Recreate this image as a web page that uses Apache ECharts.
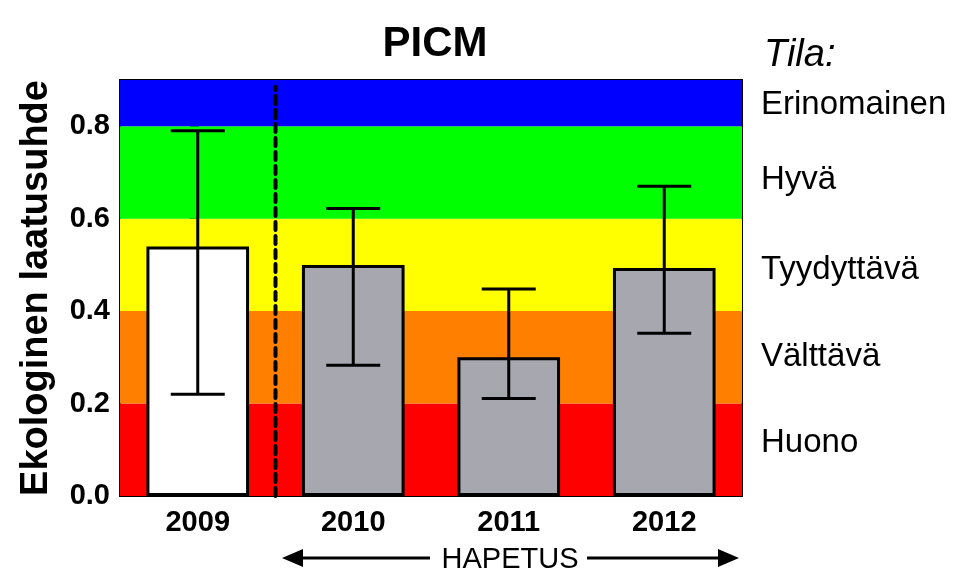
<!DOCTYPE html>
<html><head><meta charset="utf-8">
<script src="https://cdn.jsdelivr.net/npm/echarts@6/dist/echarts.min.js"></script>
<style>html,body{margin:0;padding:0;background:#fff}#c{width:958px;height:576px}</style>
</head><body><div id="c"></div>
<script>
const categories = ['2009', '2010', '2011', '2012'];
const means = [0.54, 0.50, 0.30, 0.493];
const errLow = [0.22, 0.283, 0.211, 0.352];
const errHigh = [0.79, 0.622, 0.448, 0.670];
const barColors = ['#ffffff', '#a7a7af', '#a7a7af', '#a7a7af'];
const bandLimits = [0, 0.2, 0.4, 0.6, 0.8, 0.9];
const bandColors = ['#ff0000', '#ff7f00', '#ffff00', '#00ff00', '#0000ff'];
const bandNames = ['Huono', 'Välttävä', 'Tyydyttävä', 'Hyvä', 'Erinomainen'];
const yTicks = [0, 0.2, 0.4, 0.6, 0.8];

const FONT = 'Liberation Sans, Arial, sans-serif';
const chart = echarts.init(document.getElementById('c'));

const markAreaData = bandColors.map((c, i) => [
  { yAxis: bandLimits[i], itemStyle: { color: c } },
  { yAxis: bandLimits[i + 1] }
]);

chart.setOption({
  animation: false,
  title: {
    text: 'PICM', left: 430, top: 18, textAlign: 'center',
    textStyle: { fontFamily: FONT, fontWeight: 'bold', fontSize: 42, color: '#000' }
  },
  grid: { left: 120, right: 216, top: 80, bottom: 80, show: true, borderColor: '#000', borderWidth: 2, backgroundColor: 'transparent' },
  xAxis: [{
    type: 'category', data: categories,
    axisLine: { lineStyle: { color: '#000', width: 2 } },
    axisTick: { alignWithLabel: true, length: 8, lineStyle: { color: '#000', width: 2 } },
    axisLabel: { fontFamily: FONT, fontWeight: 'bold', fontSize: 29, color: '#000', margin: 12 }
  }, {
    type: 'value', min: -0.5, max: 3.5, show: false
  }],
  yAxis: {
    type: 'value', min: 0, max: 0.9, interval: 0.2,
    name: 'Ekologinen laatusuhde', nameLocation: 'middle', nameGap: 64,
    nameTextStyle: { fontFamily: FONT, fontWeight: 'bold', fontSize: 38, color: '#000' },
    splitLine: { show: false },
    axisLine: { show: true, lineStyle: { color: '#000', width: 2 } },
    axisTick: { show: true, length: 8, lineStyle: { color: '#000', width: 2 } },
    axisLabel: {
      fontFamily: FONT, fontWeight: 'bold', fontSize: 29, color: '#000', margin: 10,
      formatter: v => yTicks.some(t => Math.abs(t - v) < 1e-6) ? v.toFixed(1) : ''
    }
  },
  series: [
    {
      type: 'line', data: [], z: 0, silent: true,
      markArea: { silent: true, data: markAreaData, itemStyle: { opacity: 1 } }
    },
    {
      type: 'bar', data: means.map((v, i) => ({ value: v, itemStyle: { color: barColors[i] } })),
      barWidth: '66%', z: 3,
      itemStyle: { borderColor: '#000', borderWidth: 3 }
    },
    {
      type: 'custom', z: 5, xAxisIndex: 0,
      data: categories.map((c, i) => [i, errLow[i], errHigh[i]]),
      renderItem: (params, api) => {
        const x = api.value(0);
        const lo = api.coord([x, api.value(1)]);
        const hi = api.coord([x, api.value(2)]);
        const hw = 27;
        const st = { stroke: '#000', lineWidth: 3 };
        return {
          type: 'group', children: [
            { type: 'line', shape: { x1: lo[0], y1: lo[1], x2: hi[0], y2: hi[1] }, style: st },
            { type: 'line', shape: { x1: lo[0] - hw, y1: lo[1], x2: lo[0] + hw, y2: lo[1] }, style: st },
            { type: 'line', shape: { x1: hi[0] - hw, y1: hi[1], x2: hi[0] + hw, y2: hi[1] }, style: st }
          ]
        };
      }
    },
    {
      type: 'line', xAxisIndex: 1, z: 4, symbol: 'none', silent: true,
      data: [[0.5, 0], [0.5, 0.885]],
      lineStyle: { color: '#000', width: 4, type: [8, 6], cap: 'round' }
    }
  ],
  graphic: [
    { type: 'text', left: 764, top: 36, style: { text: 'Tila:', font: 'italic 38px ' + FONT, fill: '#000' } },
    ...bandNames.map((n, i) => ({
      type: 'text', left: 761, top: [426, 340, 253, 163, 88][i],
      style: { text: n, font: '33px ' + FONT, fill: '#000' }
    })),
    { type: 'text', x: 510, y: 560, style: { text: 'HAPETUS', font: '29px ' + FONT, fill: '#000', align: 'center', verticalAlign: 'middle' } },
    { type: 'line', shape: { x1: 300, y1: 558, x2: 430, y2: 558 }, style: { stroke: '#000', lineWidth: 3 } },
    { type: 'line', shape: { x1: 587, y1: 558, x2: 720, y2: 558 }, style: { stroke: '#000', lineWidth: 3 } },
    { type: 'polygon', shape: { points: [[282, 558], [303, 549], [303, 567]] }, style: { fill: '#000' } },
    { type: 'polygon', shape: { points: [[739, 558], [718, 549], [718, 567]] }, style: { fill: '#000' } }
  ]
});
</script></body></html>
